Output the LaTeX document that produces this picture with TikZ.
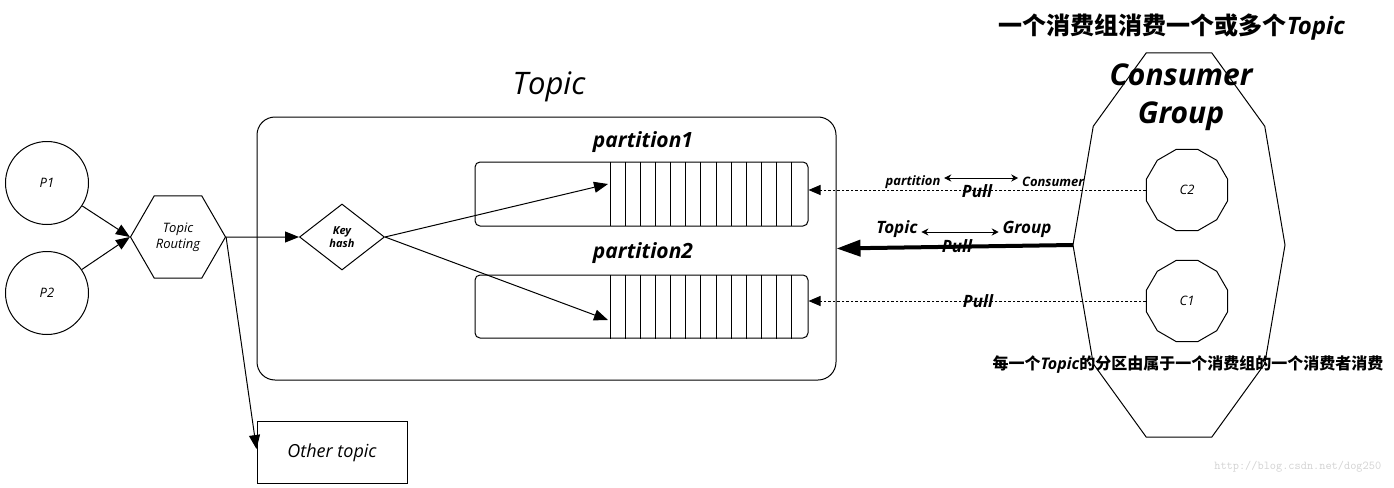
\documentclass[tikz,border=0pt]{standalone}
\usepackage{fontspec}
\setmainfont{Open Sans}
\newfontfamily\cjk{Noto Sans CJK SC}
\usetikzlibrary{arrows.meta,shapes.geometric}

\begin{document}
\begin{tikzpicture}[x=1pt,y=-1pt,line width=1pt,
  srcnode/.style={draw,circle,minimum size=83pt,inner sep=0pt,font=\itshape\fontsize{13}{15}\selectfont},
  consnode/.style={draw,regular polygon,regular polygon sides=12,minimum size=84pt,inner sep=0pt,font=\itshape\fontsize{13}{15}\selectfont},
  tip/.style={-{Triangle[length=14pt,width=11pt]}},
  pullline/.style={dash pattern=on 2.5pt off 2pt,-{Triangle[length=12pt,width=10pt]}},
  twoway/.style={line width=0.9pt,{Stealth[length=7pt,width=7pt]}-{Stealth[length=7pt,width=7pt]}},
  lbl/.style={font=\itshape\bfseries\fontsize{17}{19}\selectfont},
  small/.style={font=\itshape\bfseries\fontsize{13}{15}\selectfont},
  plabel/.style={font=\itshape\bfseries\fontsize{21}{23}\selectfont}]
\useasboundingbox (0,0) rectangle (1394,487);

% producers and routing
\node[srcnode] (p1) at (47,183) {P1};
\node[srcnode] (p2) at (47,293) {P2};
\node[draw,regular polygon,regular polygon sides=6,minimum size=95pt,inner sep=0pt,align=center,font=\itshape\fontsize{13}{16}\selectfont] (route) at (178,237) {Topic\\Routing};
\node[draw,minimum width=150pt,minimum height=62pt,font=\itshape\fontsize{18}{20}\selectfont] (other) at (332,452.5) {Other topic};

% topic with its partitions
\node[draw,rounded corners=18pt,minimum width=579pt,minimum height=263pt] (topic) at (546.5,248.5) {};
\node[font=\itshape\fontsize{31}{33}\selectfont] (topictitle) at (549,87) {Topic};
\node[draw,diamond,minimum width=85pt,minimum height=66pt,inner sep=0pt,align=center,font=\itshape\bfseries\fontsize{11}{13}\selectfont] (hash) at (342,237) {Key\\hash};
\node[draw,rounded corners=5pt,minimum width=333pt,minimum height=64pt] (part1) at (641.5,194) {};
\node[draw,rounded corners=5pt,minimum width=333pt,minimum height=63pt] (part2) at (641.5,306.5) {};
\foreach \y in {162,275}
  \foreach \i in {0,...,12}
    \draw (610+15.15*\i,\y) -- ++(0,63.5);
\node[plabel] (p1lbl) at (643,142) {partition1};
\node[plabel] (p2lbl) at (643,253) {partition2};
\coordinate (q1) at (608,184);
\coordinate (q2) at (608,320);

\draw[tip] (p1) -- (route.west);
\draw[tip] (p2) -- (route.west);
\draw[tip] (route.east) -- (hash.west);
\draw[tip] (route.east) -- ([yshift=-28pt]other.north west);
\draw[tip] (hash.east) -- (q1);
\draw[tip] (hash.east) -- (q2);

% consumer group
\coordinate (cg) at (1179,245);
\coordinate (cgw) at (1073,245);
\draw plot[samples at={0,36,...,324}] ({1179+106*cos(\x)},{245+202*sin(\x)}) -- cycle;
\node[font=\itshape\bfseries\fontsize{30}{38}\selectfont,align=center] (cgtitle) at (1181,97) {Consumer\\Group};
\node[consnode] (c2) at (1187,190) {C2};
\node[consnode] (c1) at (1187,301) {C1};

\draw[pullline] (c2.west) -- (c2.west -| part1.east);
\draw[pullline] (c1.west) -- (c1.west -| part2.east);
\draw[line width=4pt,-{Triangle[length=24pt,width=16pt]}] (cgw) -- (topic.east);

\node[small] (lpart) at (913,182) {partition};
\node[small] (lcons) at (1053,182) {Consumer};
\draw[twoway] ([yshift=4pt]lpart.east) -- ([yshift=4pt]lcons.west);
\node[lbl] (pull1) at (977,191) {Pull};
\node[lbl] (ltopic) at (897,229) {Topic};
\node[lbl] (lgroup) at (1027,229) {Group};
\draw[twoway] ([yshift=-3pt]ltopic.east) -- ([yshift=-3pt]lgroup.west);
\node[lbl] (pull2) at (957,246) {Pull};
\node[lbl] (pull3) at (978,301) {Pull};

% notes
\node[font=\fontsize{24}{26}\selectfont] (note1) at (1172,27) {{\cjk\bfseries 一个消费组消费一个或多个}\textit{\bfseries Topic}};
\node[font=\fontsize{16}{18}\selectfont] (note2) at (1188,365) {{\cjk\bfseries 每一个}\textit{\bfseries Topic}{\cjk\bfseries 的分区由属于一个消费组的一个消费者消费}};
\node[font=\ttfamily\fontsize{12}{14}\selectfont,text=gray!35,anchor=east] (mark) at (1385,467) {http://blog.csdn.net/dog250};
\end{tikzpicture}
\end{document}
